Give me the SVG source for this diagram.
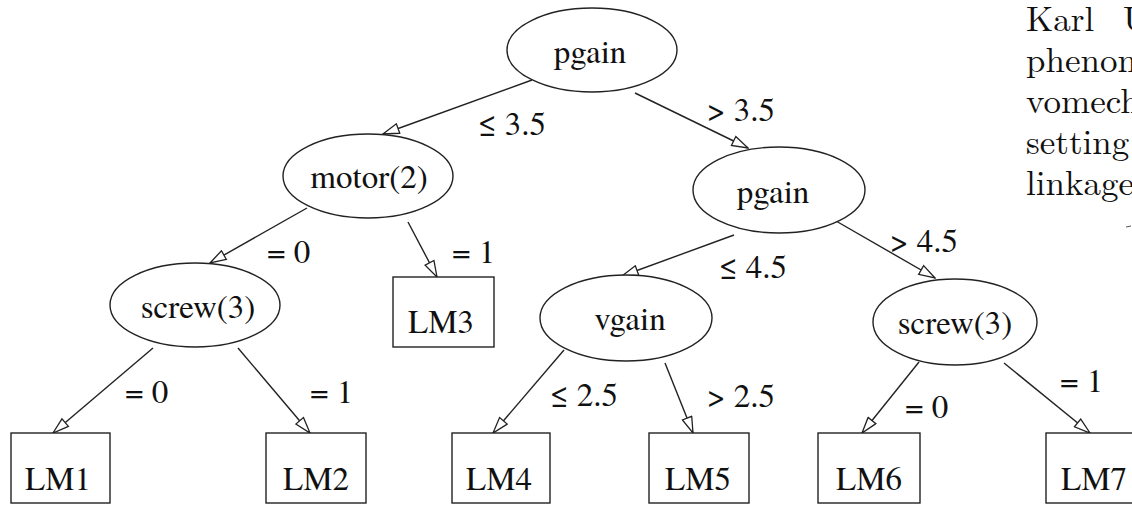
<svg xmlns="http://www.w3.org/2000/svg" width="1132" height="505" viewBox="0 0 1132 505">
<style>
  .node ellipse, .node rect { fill: #fff; stroke: #222; stroke-width: 1.4; }
  .node text { font-size: 33px; fill: #111; text-anchor: middle; }
  .edges line { stroke: #222; stroke-width: 1.4; marker-end: url(#arr); }
  .lbl { font-size: 33px; fill: #111; }
  .side { font-size: 35px; fill: #111; }
</style>
<defs>
  <marker id="arr" markerUnits="userSpaceOnUse" viewBox="0 0 18 12" markerWidth="18" markerHeight="12" refX="17" refY="6" orient="auto">
    <path d="M1,1 L17,6 L1,11 Z" fill="#fff" stroke="#222" stroke-width="1.3"/>
  </marker>
</defs>
<rect width="1132" height="505" fill="#fff"/>

<g class="edges">
  <line x1="532" y1="80" x2="383" y2="134"/>
  <line x1="635" y1="93" x2="748" y2="148"/>
  <line x1="307" y1="208" x2="210" y2="263"/>
  <line x1="408" y1="222" x2="437" y2="277"/>
  <line x1="153" y1="348" x2="53" y2="433"/>
  <line x1="238" y1="348" x2="310" y2="433"/>
  <line x1="734" y1="235" x2="622" y2="276"/>
  <line x1="836" y1="221" x2="935" y2="278"/>
  <line x1="564" y1="350" x2="493" y2="433"/>
  <line x1="665" y1="363" x2="693" y2="433"/>
  <line x1="919" y1="362" x2="862" y2="433"/>
  <line x1="1004" y1="363" x2="1090" y2="433"/>
</g>

<g id="labels" font-family="TeX Gyre Termes, Nimbus Roman No9 L, Latin Modern Roman, serif">
  <text class="lbl" x="478" y="135">≤ 3.5</text>
  <text class="lbl" x="707" y="121">&gt; 3.5</text>
  <text class="lbl" x="267" y="263">= 0</text>
  <text class="lbl" x="452" y="263">= 1</text>
  <text class="lbl" x="125" y="403">= 0</text>
  <text class="lbl" x="310" y="403">= 1</text>
  <text class="lbl" x="719" y="278">≤ 4.5</text>
  <text class="lbl" x="890" y="252">&gt; 4.5</text>
  <text class="lbl" x="550" y="406">≤ 2.5</text>
  <text class="lbl" x="707" y="407">&gt; 2.5</text>
  <text class="lbl" x="905" y="418">= 0</text>
  <text class="lbl" x="1060" y="392">= 1</text>
</g>

<g id="nodes" font-family="TeX Gyre Termes, Nimbus Roman No9 L, Latin Modern Roman, serif">
<g id="n-pgain" class="node"><ellipse cx="592" cy="50" rx="85" ry="42"/><text x="590" y="63">pgain</text></g>
<g id="n-motor" class="node"><ellipse cx="368" cy="176" rx="85" ry="42"/><text x="369" y="188">motor(2)</text></g>
<g id="n-pgain2" class="node"><ellipse cx="779" cy="190" rx="86" ry="43"/><text x="773" y="203">pgain</text></g>
<g id="n-screw1" class="node"><ellipse cx="195" cy="305" rx="85" ry="42"/><text x="198" y="318">screw(3)</text></g>
<g id="n-lm3" class="node"><rect x="393" y="277" width="101" height="70"/><text x="441" y="333">LM3</text></g>
<g id="n-vgain" class="node"><ellipse cx="626" cy="318" rx="86" ry="43"/><text x="630" y="330">vgain</text></g>
<g id="n-screw2" class="node"><ellipse cx="955" cy="322" rx="82" ry="43"/><text x="955" y="334">screw(3)</text></g>
<g id="n-lm1" class="node"><rect x="11" y="433" width="99" height="70"/><text x="58" y="490">LM1</text></g>
<g id="n-lm2" class="node"><rect x="266" y="433" width="100" height="70"/><text x="316" y="490">LM2</text></g>
<g id="n-lm4" class="node"><rect x="452" y="433" width="98" height="70"/><text x="499" y="490">LM4</text></g>
<g id="n-lm5" class="node"><rect x="649" y="433" width="100" height="70"/><text x="698" y="490">LM5</text></g>
<g id="n-lm6" class="node"><rect x="818" y="433" width="102" height="70"/><text x="869" y="490">LM6</text></g>
<g id="n-lm7" class="node"><rect x="1046" y="433" width="100" height="70"/><text x="1094" y="490">LM7</text></g>
</g>

<g id="sidetext" font-family="Latin Modern Roman, serif">
  <text class="side" x="1026" y="31">Karl</text>
  <text class="side" x="1123" y="31">U</text>
  <text class="side" x="1026" y="72">phenom</text>
  <text class="side" x="1026" y="113">vomech</text>
  <text class="side" x="1026" y="154">setting</text>
  <text class="side" x="1026" y="195">linkage</text>
  <line x1="1126" y1="227" x2="1131" y2="226" stroke="#555" stroke-width="1"/>
</g>
</svg>
